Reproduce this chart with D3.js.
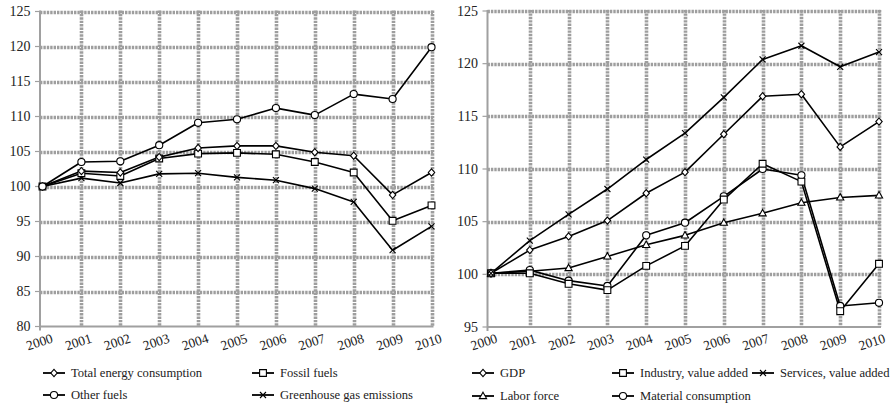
<!DOCTYPE html>
<html>
<head>
<meta charset="utf-8">
<script src="https://cdn.jsdelivr.net/npm/d3@7"></script>
<style>
  body { margin: 0; background: #fff; }
  text { font-family: "Liberation Serif", "Times New Roman", "DejaVu Serif", serif; }
</style>
</head>
<body>
<script>
var width = 894, height = 406;
var FONT = "'Liberation Serif', 'Times New Roman', 'DejaVu Serif', serif";

/** data **/
var years = [2000, 2001, 2002, 2003, 2004, 2005, 2006, 2007, 2008, 2009, 2010];

var totalEnergy = [100, 102.2, 102.0, 104.2, 105.5, 105.8, 105.8, 104.9, 104.4, 98.8, 102.0];
var fossilFuels = [100, 101.9, 101.5, 104.0, 104.7, 104.8, 104.6, 103.5, 102.0, 95.1, 97.3];
var otherFuels = [100, 103.5, 103.6, 105.9, 109.1, 109.6, 111.2, 110.2, 113.2, 112.5, 119.9];
var ghgEmissions = [100, 101.2, 100.5, 101.8, 101.9, 101.3, 100.9, 99.7, 97.8, 90.9, 94.3];

var gdp = [100.1, 102.3, 103.6, 105.1, 107.7, 109.7, 113.3, 116.9, 117.1, 112.1, 114.5];
var industry = [100.1, 100.1, 99.1, 98.5, 100.8, 102.7, 107.1, 110.5, 108.8, 96.5, 101.0];
var services = [100.1, 103.2, 105.7, 108.1, 110.9, 113.4, 116.8, 120.4, 121.7, 119.7, 121.1];
var laborForce = [100.1, 100.3, 100.6, 101.7, 102.8, 103.7, 104.9, 105.8, 106.8, 107.3, 107.5];
var material = [100.1, 100.4, 99.4, 98.9, 103.7, 104.9, 107.4, 110.0, 109.4, 97.0, 97.3];

var leftTicks = [80, 85, 90, 95, 100, 105, 110, 115, 120, 125];
var rightTicks = [95, 100, 105, 110, 115, 120, 125];

var svg = d3.select("body").append("svg")
    .attr("width", width).attr("height", height)
    .attr("font-family", FONT);

/** marker shapes, drawn around 0,0 **/
var shapes = {
    diamond: "M0,-3.6L3.2,0L0,3.6L-3.2,0Z",
    square: "M-3.4,-3.4H3.4V3.4H-3.4Z",
    circle: d3.symbol(d3.symbolCircle, 40)(),
    triangle: "M0,-3.8L3.6,2.6H-3.6Z",
    cross: "M-3,-3L3,3M-3,3L3,-3"
};

var GRID = "#9e9e9e";

function drawPanel(p) {
    var g = svg.append("g");
    var x = d3.scaleLinear().domain([2000, 2010]).range(p.xRange);
    var y = d3.scaleLinear().domain(p.yDomain).range(p.yRange);
    var bottom = y(p.yDomain[0]), top = y(p.yDomain[1]);

    // gridlines
    g.selectAll(".hgrid").data(p.ticks.slice(1)).enter().append("line")
        .attr("x1", p.axisX).attr("x2", x(2010) + 1.5)
        .attr("y1", d => Math.round(y(d)) + 0.5).attr("y2", d => Math.round(y(d)) + 0.5)
        .attr("stroke", GRID).attr("stroke-width", 3.6)
        .attr("stroke-dasharray", "2.4,1");
    g.selectAll(".vgrid").data(years.slice(1)).enter().append("line")
        .attr("x1", d => Math.round(x(d)) + 0.5).attr("x2", d => Math.round(x(d)) + 0.5)
        .attr("y1", top - 1).attr("y2", bottom)
        .attr("stroke", GRID).attr("stroke-width", 3.6)
        .attr("stroke-dasharray", "2.4,1");

    // axes
    g.append("line").attr("x1", p.axisX).attr("x2", p.axisX)
        .attr("y1", top - 1).attr("y2", bottom + 4)
        .attr("stroke", "#a0a0a0").attr("stroke-width", 2);
    g.append("line").attr("x1", p.axisX).attr("x2", x(2010) + 2)
        .attr("y1", bottom).attr("y2", bottom)
        .attr("stroke", "#a0a0a0").attr("stroke-width", 2);
    g.selectAll(".ytick").data(p.ticks).enter().append("line")
        .attr("x1", p.axisX - 5).attr("x2", p.axisX)
        .attr("y1", d => y(d)).attr("y2", d => y(d))
        .attr("stroke", "#a0a0a0").attr("stroke-width", 1.2);
    g.selectAll(".ylab").data(p.ticks).enter().append("text")
        .attr("x", p.axisX - 9.5).attr("y", d => y(d))
        .attr("text-anchor", "end").attr("dominant-baseline", "central")
        .attr("font-family", FONT)
        .attr("font-size", 14).attr("fill", "#222")
        .text(d => d);
    g.selectAll(".xlab").data(years).enter().append("text")
        .attr("transform", d => "translate(" + (x(d) + p.labelShift) + "," + 342 + ") rotate(-18)")
        .attr("text-anchor", "middle").attr("dominant-baseline", "central")
        .attr("font-family", FONT)
        .attr("font-size", 13.5).attr("fill", "#222")
        .text(d => d);

    // series
    var line = d3.line().x((d, i) => x(years[i])).y(d => y(d));
    p.series.forEach(s => {
        g.append("path").attr("d", line(s.values))
            .attr("fill", "none").attr("stroke", "#000").attr("stroke-width", 1.6)
            .attr("stroke-linejoin", "round");
    });
    p.series.forEach(s => {
        g.selectAll(null).data(s.values).enter().append("path")
            .attr("d", shapes[s.shape])
            .attr("transform", (d, i) => "translate(" + x(years[i]) + "," + y(d) + ")")
            .attr("fill", "#fff").attr("stroke", "#000").attr("stroke-width", 1.1);
    });

    // legend
    p.series.forEach(s => {
        var lg = g.append("g").attr("transform", "translate(" + s.lx + "," + s.ly + ")");
        lg.append("line").attr("x1", 0).attr("x2", 22).attr("y1", 0).attr("y2", 0)
            .attr("stroke", "#000").attr("stroke-width", 1.8);
        lg.append("path").attr("d", shapes[s.shape]).attr("transform", "translate(11,0)")
            .attr("fill", "#fff").attr("stroke", "#000").attr("stroke-width", 1.1);
        lg.append("text").attr("x", 28).attr("y", 0)
            .attr("dominant-baseline", "central")
            .attr("font-family", FONT)
            .attr("font-size", 12.6).attr("fill", "#222")
            .text(s.name);
    });
}

drawPanel({
    axisX: 40, xRange: [42.5, 431.5],
    yDomain: [80, 125], yRange: [326.5, 11.5],
    ticks: leftTicks, labelShift: -3,
    series: [
        { name: "Greenhouse gas emissions", values: ghgEmissions, shape: "cross", lx: 252, ly: 395 },
        { name: "Fossil fuels", values: fossilFuels, shape: "square", lx: 252, ly: 373 },
        { name: "Total energy consumption", values: totalEnergy, shape: "diamond", lx: 43, ly: 373 },
        { name: "Other fuels", values: otherFuels, shape: "circle", lx: 43, ly: 395 }
    ]
});

drawPanel({
    axisX: 487.5, xRange: [491, 879],
    yDomain: [95, 125], yRange: [327, 11],
    ticks: rightTicks, labelShift: -7,
    series: [
        { name: "Labor force", values: laborForce, shape: "triangle", lx: 472, ly: 396 },
        { name: "Material consumption", values: material, shape: "circle", lx: 612, ly: 396 },
        { name: "Industry, value added", values: industry, shape: "square", lx: 612, ly: 373 },
        { name: "GDP", values: gdp, shape: "diamond", lx: 472, ly: 373 },
        { name: "Services, value added", values: services, shape: "cross", lx: 752, ly: 373 }
    ]
});
</script>
</body>
</html>
